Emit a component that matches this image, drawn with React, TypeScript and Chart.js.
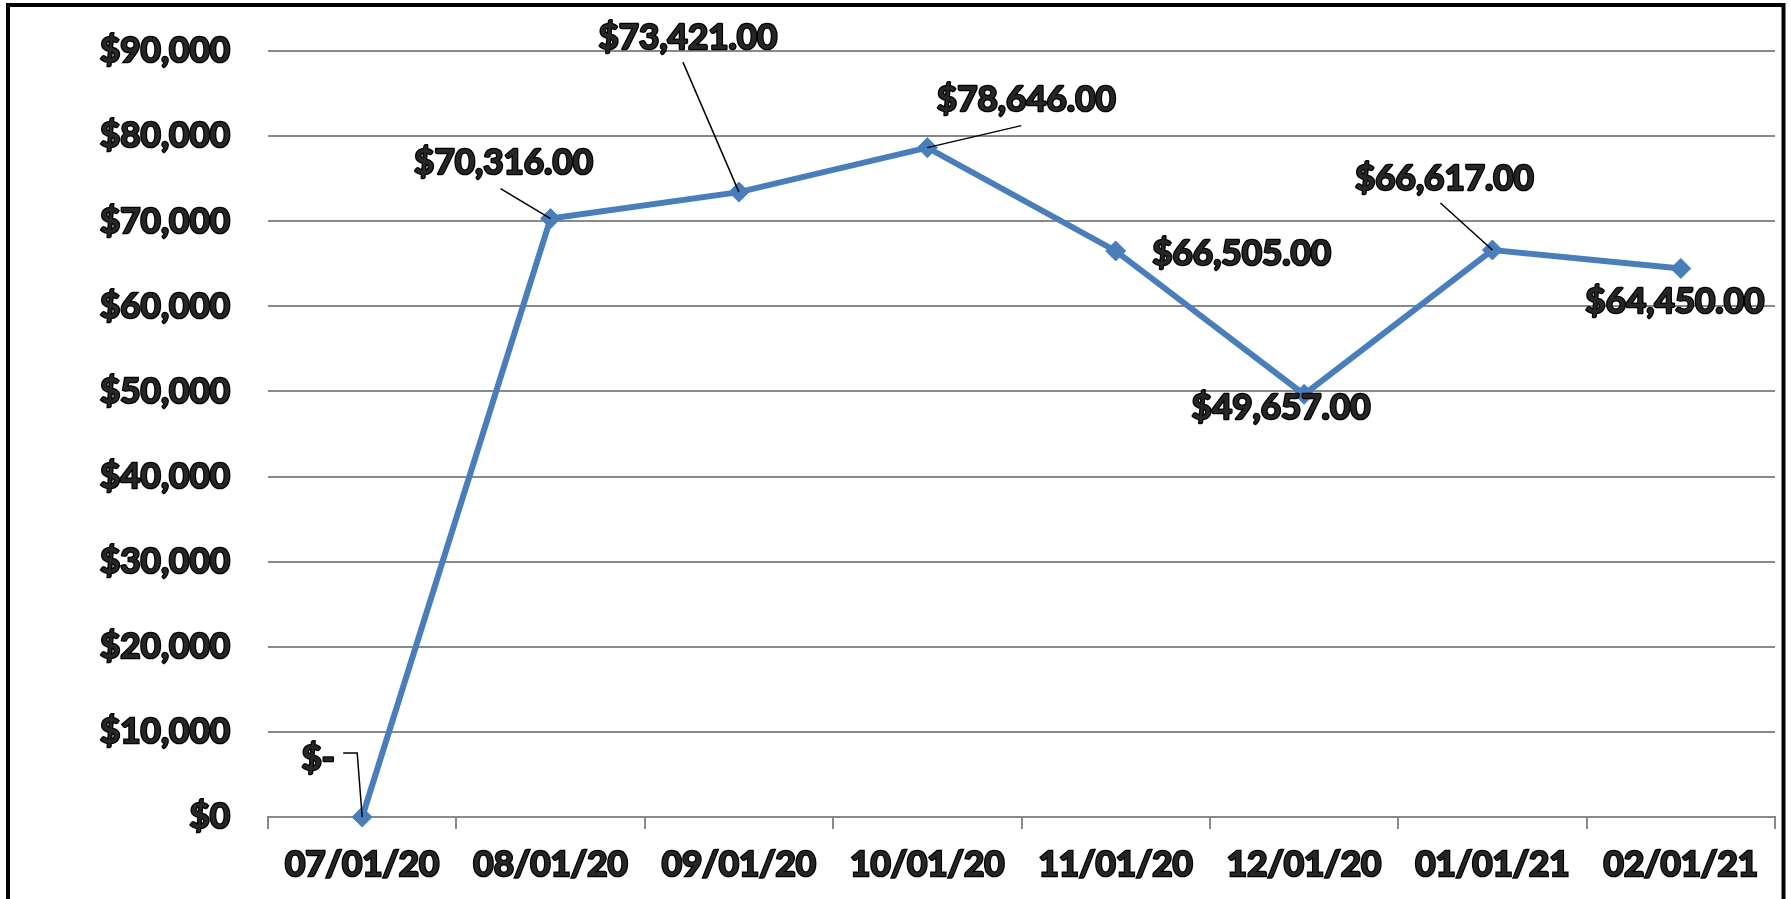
import React, { useEffect, useRef } from 'react';
import { Chart, registerables } from 'chart.js';

Chart.register(...registerables);

// ---- data ----
const categories = ['07/01/20', '08/01/20', '09/01/20', '10/01/20', '11/01/20', '12/01/20', '01/01/21', '02/01/21'];
const values = [0, 70316, 73421, 78646, 66505, 49657, 66617, 64450];
const yMin = 0;
const yMax = 90000;
const yStep = 10000;

// ---- data-label placement (px, relative to the point) ----
const labelOffsets = [[-44, -60], [-47, -57], [-51, -156], [99, -49], [126, 1], [-23, 12], [-48, -73], [-6, 32]];
const leaderPaths = [[[-19, -64], [-5, -64]], [[-50, -30]], [[-56, -130]], [[94, -22]], [], [], [[-52, -47]], []];

const FONT = 'Lato, "Open Sans", sans-serif';
const FONT_SIZE = 35;
const TEXT = '#262626';
const GRID = '#898989';
const LINE = '#4A7EBB';

function fmtLabel(v: number): string {
  if (v === 0) return '$-';
  return '$' + v.toLocaleString('en-US', { minimumFractionDigits: 2, maximumFractionDigits: 2 });
}
function fmtTick(v: number | string): string {
  return '$' + Number(v).toLocaleString('en-US');
}

const labelPlugin = {
  id: 'excelLabels',
  afterDatasetsDraw(chart: any) {
    const ctx = chart.ctx;
    const meta = chart.getDatasetMeta(0);
    ctx.save();
    meta.data.forEach((pt: any, i: number) => {
      const x = pt.x;
      const y = pt.y;
      const path = leaderPaths[i];
      if (path.length) {
        ctx.beginPath();
        ctx.strokeStyle = '#000';
        ctx.lineWidth = 1.5;
        ctx.moveTo(x + path[0][0], y + path[0][1]);
        for (let k = 1; k < path.length; k++) ctx.lineTo(x + path[k][0], y + path[k][1]);
        ctx.lineTo(x, y);
        ctx.stroke();
      }
      const [dx, dy] = labelOffsets[i];
      ctx.font = `bold ${FONT_SIZE}px ${FONT}`;
      ctx.textAlign = 'center';
      ctx.textBaseline = 'alphabetic';
      const tx = x + dx;
      const ty = y + dy + FONT_SIZE * 0.36;
      const txt = fmtLabel(values[i]);
      ctx.lineJoin = 'round';
      ctx.strokeStyle = '#000';
      ctx.lineWidth = 2.5;
      ctx.strokeText(txt, tx, ty);
      ctx.fillStyle = TEXT;
      ctx.fillText(txt, tx, ty);
    });
    ctx.restore();
  },
};

const framePlugin = {
  id: 'frame',
  afterDraw(chart: any) {
    const ctx = chart.ctx;
    ctx.save();
    ctx.strokeStyle = '#000';
    ctx.lineWidth = 4;
    ctx.strokeRect(8, 5, 1775.5, 1000);
    ctx.restore();
  },
};

export default function App() {
  const ref = useRef<HTMLCanvasElement | null>(null);

  useEffect(() => {
    if (!ref.current) return;
    const tickFont = { family: FONT, size: FONT_SIZE, weight: 'bold' as const };
    const chart = new Chart(ref.current, {
      type: 'line',
      data: {
        labels: categories,
        datasets: [
          {
            data: values,
            borderColor: LINE,
            backgroundColor: LINE,
            borderWidth: 6,
            pointStyle: 'rectRot',
            pointRadius: 10,
            pointBorderWidth: 1,
            pointBackgroundColor: LINE,
            pointBorderColor: LINE,
            tension: 0,
            fill: false,
            clip: false,
          },
        ],
      },
      options: {
        animation: false,
        responsive: false,
        devicePixelRatio: 1,
        layout: { padding: { left: 0, top: 51, right: 16, bottom: 0 } },
        plugins: {
          legend: { display: false },
          tooltip: { enabled: false },
        },
        scales: {
          x: {
            type: 'category',
            offset: true,
            grid: {
              display: true,
              drawOnChartArea: false,
              drawTicks: true,
              tickLength: 12,
              color: GRID,
              lineWidth: 2,
              offset: true,
            },
            border: { display: true, color: GRID, width: 2 },
            ticks: {
              font: tickFont,
              color: TEXT,
              textStrokeColor: '#000',
              textStrokeWidth: 2.5,
              padding: 15,
              maxRotation: 0,
              autoSkip: false,
            },
            afterFit(scale: any) {
              scale.height = 82;
              scale.paddingLeft = 0;
              scale.paddingRight = 0;
            },
          },
          y: {
            min: yMin,
            max: yMax,
            grid: { color: GRID, lineWidth: 2, drawTicks: false },
            border: { display: false },
            ticks: {
              stepSize: yStep,
              font: tickFont,
              color: TEXT,
              textStrokeColor: '#000',
              textStrokeWidth: 2.5,
              padding: 38,
              callback: (v: any) => fmtTick(v),
            },
            afterFit(scale: any) {
              scale.width = 268;
              scale.paddingTop = 0;
              scale.paddingBottom = 0;
            },
          },
        },
      },
      plugins: [labelPlugin, framePlugin],
    });
    return () => chart.destroy();
  }, []);

  return (
    <div style={{ position: 'fixed', left: 0, top: 0, width: 1791, height: 899, background: '#fff' }}>
      <canvas ref={ref} width={1791} height={899} style={{ display: 'block' }} />
    </div>
  );
}
